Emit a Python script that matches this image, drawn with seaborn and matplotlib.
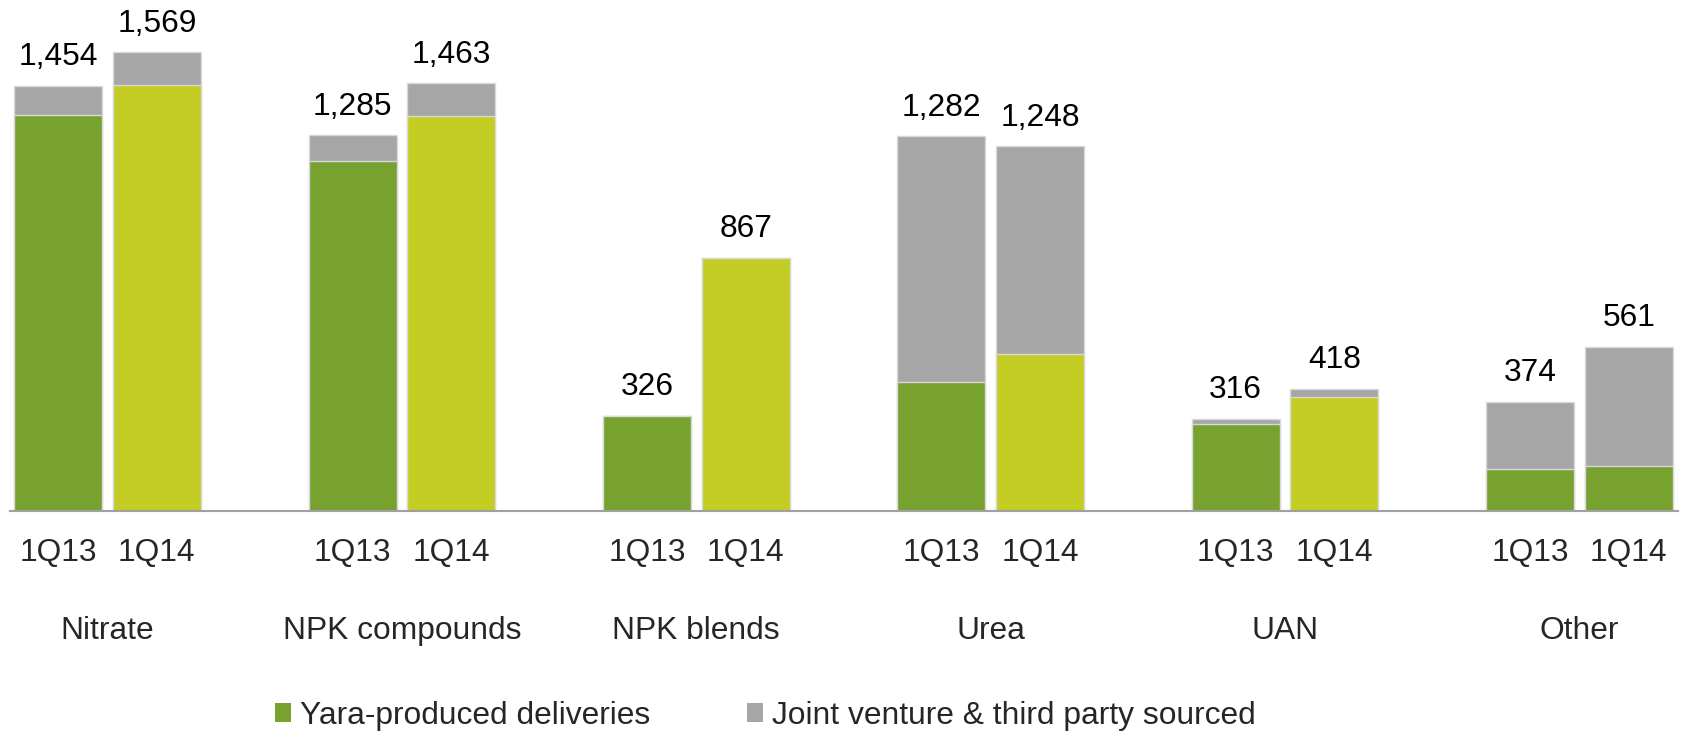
import matplotlib
matplotlib.use("Agg")
import matplotlib.pyplot as plt
from matplotlib.patches import Patch
import seaborn as sns
import pandas as pd

# Deliveries by product (kt), first quarter 2013 vs 2014
products = ["Nitrate", "NPK compounds", "NPK blends", "Urea", "UAN", "Other"]
periods = ["1Q13", "1Q14"]
total_1q13 = [1454, 1285, 326, 1282, 316, 374]
total_1q14 = [1569, 1463, 867, 1248, 418, 561]
yara_1q13 = [1356, 1198, 326, 442, 297, 145]
yara_1q14 = [1457, 1351, 867, 537, 391, 155]
legend_labels = ["Yara-produced deliveries", "Joint venture & third party sourced"]

GREEN = "#78A22F"
LIME = "#C3CD23"
GREY = "#A6A6A6"
EDGE = "#D9D9D9"

rows = []
for i, p in enumerate(products):
    rows.append({"product": p, "period": "1Q13", "total": total_1q13[i], "yara": yara_1q13[i]})
    rows.append({"product": p, "period": "1Q14", "total": total_1q14[i], "yara": yara_1q14[i]})
df = pd.DataFrame(rows)

sns.set_theme(style="white")
plt.rcParams["font.family"] = ["Liberation Sans", "DejaVu Sans"]

FS = 22.9
W, H = 1685, 735
fig = plt.figure(figsize=(W / 100, H / 100), dpi=100)
ax = fig.add_axes([9.8 / W, (H - 511) / H, (1678 - 9.8) / W, 511 / H])

group_width = 0.67
gap = 0.107

# full stack height (grey = third-party share visible above the Yara part)
sns.barplot(data=df, x="product", y="total", hue="period", order=products,
            hue_order=periods, palette={"1Q13": GREY, "1Q14": GREY},
            width=group_width, gap=gap, errorbar=None, saturation=1,
            edgecolor=EDGE, linewidth=1, legend=False, ax=ax)
# Yara-produced part
sns.barplot(data=df, x="product", y="yara", hue="period", order=products,
            hue_order=periods, palette={"1Q13": GREEN, "1Q14": LIME},
            width=group_width, gap=gap, errorbar=None, saturation=1,
            edgecolor=EDGE, linewidth=1, legend=False, ax=ax)

# "Other" is shown in the darker green for both quarters
ax.containers[3][products.index("Other")].set_facecolor(GREEN)

# total labels above each stack
for cont, vals in zip(ax.containers[:2], [total_1q13, total_1q14]):
    ax.bar_label(cont, labels=[f"{v:,}" for v in vals], padding=9.8,
                 fontsize=FS, color="black")

ax.set_xlim(-0.332, 5.335)
ax.set_ylim(0, 1748)
ax.set_xlabel("")
ax.set_ylabel("")
ax.set_yticks([])

# period tick labels under each bar
offset = group_width / 4
tick_pos, tick_lab = [], []
for i in range(len(products)):
    for j, per in enumerate(periods):
        tick_pos.append(i + (j - 0.5) * 2 * offset)
        tick_lab.append(per)
ax.set_xticks(tick_pos)
ax.set_xticklabels(tick_lab, fontsize=FS)
ax.tick_params(axis="x", length=0, pad=19.5)

# product names below the period labels
for i, p in enumerate(products):
    ax.annotate(p, xy=(i, 0), xycoords=("data", "axes fraction"),
                xytext=(0, -92.5), textcoords="offset points",
                ha="center", va="baseline", fontsize=FS)

for s in ["top", "left", "right"]:
    ax.spines[s].set_visible(False)
ax.spines["bottom"].set_color("#A0A0A0")
ax.spines["bottom"].set_linewidth(1.5)

handles = [Patch(facecolor=GREEN, edgecolor="none"),
           Patch(facecolor=GREY, edgecolor="none")]
fig.legend(handles, legend_labels, loc="center left",
           bbox_to_anchor=(275 / W, (H - 716) / H), ncol=2, frameon=False,
           fontsize=FS, handlelength=0.5, handleheight=0.53,
           handletextpad=0.28, columnspacing=3.05, borderpad=0,
           borderaxespad=0)

fig.savefig("out.png", dpi=100)
